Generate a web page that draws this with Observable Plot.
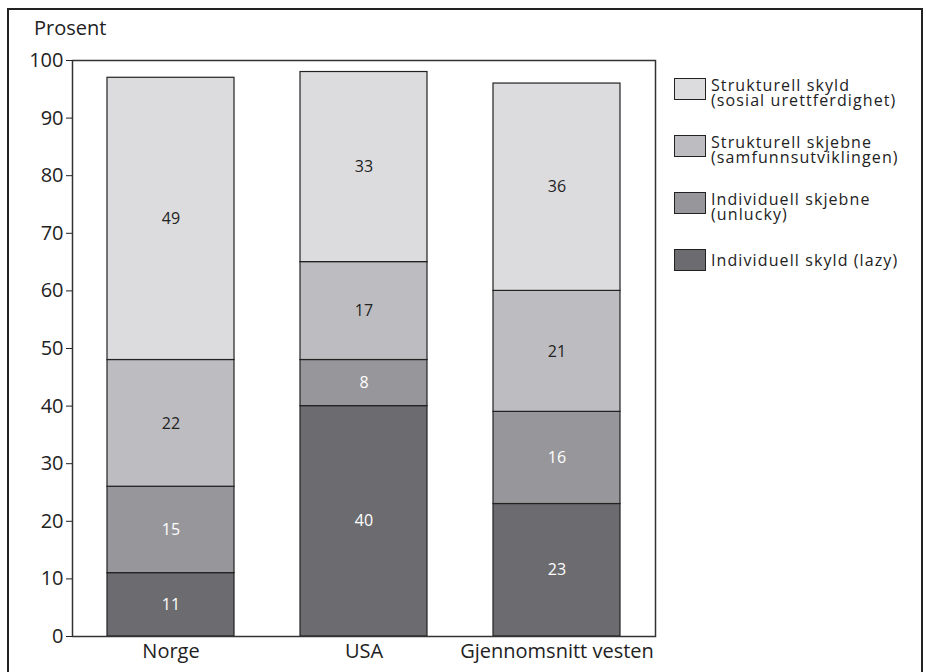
<!DOCTYPE html>
<html><head><meta charset="utf-8">
<script src="https://cdn.jsdelivr.net/npm/d3@7"></script>
<script src="https://cdn.jsdelivr.net/npm/@observablehq/plot@0.6"></script>
<style>
body{margin:0;background:#fff;font-family:"Open Sans",sans-serif;}
#wrap{position:relative;width:926px;height:672px;overflow:hidden;}
#border{position:absolute;left:7px;top:8px;width:916px;height:700px;border:2.5px solid #222;box-sizing:border-box;}
#ylab{position:absolute;left:34px;top:14px;font-size:20px;color:#222;}
#legend{position:absolute;left:674px;top:78px;}
.item{position:relative;height:57px;}
.sw{position:absolute;left:0;top:0;width:32px;height:22px;border:1.5px solid #222;box-sizing:border-box;}
.lt{position:absolute;left:37px;height:15px;font-size:16px;line-height:15px;color:#222;white-space:nowrap;letter-spacing:1.1px;overflow:visible;}
#chart{position:absolute;left:0;top:0;}
</style></head><body>
<div id="wrap"><div id="border"></div><div id="chart"></div><div id="ylab">Prosent</div><div id="legend"></div></div>
<script>
const countries = ["Norge","USA","Gjennomsnitt vesten"];
const series = ["Individuell skyld (lazy)","Individuell skjebne (unlucky)","Strukturell skjebne (samfunnsutviklingen)","Strukturell skyld (sosial urettferdighet)"];
const legendLines = [["Individuell skyld (lazy)"],["Individuell skjebne","(unlucky)"],["Strukturell skjebne","(samfunnsutviklingen)"],["Strukturell skyld","(sosial urettferdighet)"]];
const colors = ["#6c6c70","#97979b","#bdbdc1","#dcdcde"];
const textColors = ["#fff","#fff","#222","#222"];
const lazy = [11,40,23];
const unlucky = [15,8,16];
const samfunn = [22,17,21];
const urett = [49,33,36];
const yTicks = [0,10,20,30,40,50,60,70,80,90,100];

const vals = [lazy,unlucky,samfunn,urett];
const data = [];
series.forEach((s,si)=>countries.forEach((c,ci)=>data.push({country:c,series:s,value:vals[si][ci],si})));

const chart = Plot.plot({
  width:926,height:672,
  marginLeft:72,marginRight:271,marginTop:60,marginBottom:36,
  style:{fontFamily:"Open Sans, sans-serif",fontSize:"20px",color:"#222",background:"transparent"},
  x:{domain:countries,paddingInner:0.34,paddingOuter:0.18,label:null},
  y:{domain:[0,100],label:null},
  color:{domain:series,range:colors},
  marks:[
    Plot.barY(data,Plot.stackY({x:"country",y:"value",fill:"series",order:series,stroke:"#222",strokeWidth:1.2})),
    Plot.text(data,Plot.stackY({x:"country",y:"value",z:"series",order:series,text:d=>String(d.value),fill:d=>textColors[d.si],fontSize:16})),
    Plot.frame({stroke:"#333",strokeWidth:1.5}),
    Plot.axisY({ticks:yTicks,tickSize:6,tickPadding:3,label:null,fontSize:20}),
    Plot.axisX({tickSize:0,tickPadding:7,label:null,fontSize:20})
  ]
});
document.getElementById("chart").appendChild(chart);

const lg = document.getElementById("legend");
[3,2,1,0].forEach(i=>{
  const it=document.createElement("div");it.className="item";
  const sw=document.createElement("div");sw.className="sw";sw.style.background=colors[i];
  it.appendChild(sw);
  const lines=legendLines[i];
  lines.forEach((l,k)=>{
    const lt=document.createElement("div");lt.className="lt";
    lt.textContent=l;
    lt.style.top=(lines.length===1?4:(k*15))+"px";
    it.appendChild(lt);
  });
  lg.appendChild(it);
});
</script></body></html>
